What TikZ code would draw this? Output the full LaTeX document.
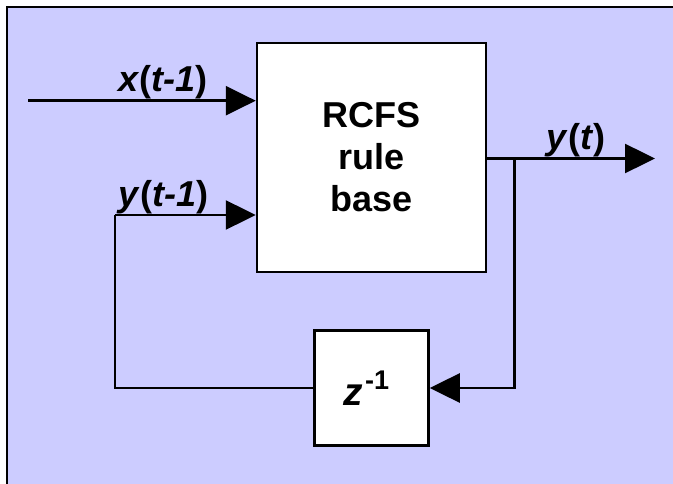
\documentclass[tikz,border=0pt]{standalone}
\usepackage{fontspec}
\setmainfont{Liberation Sans}
\usepackage{tikz}
\usetikzlibrary{arrows.meta,positioning,calc}
\definecolor{panelblue}{HTML}{CCCCFF}
\tikzset{
  rframe/.style={draw=black, line width=2pt},
  rbox/.style={draw=black, fill=white, line width=2.5pt, align=center, inner sep=0pt},
  rarrow/.style={-{Triangle[length=30pt, width=29pt]}, line width=2.5pt, black},
  rline/.style={line width=2.5pt, black},
  rlabel/.style={font=\fontsize{36}{40}\selectfont\bfseries, inner sep=0pt},
}
\begin{document}
\begin{tikzpicture}[x=1pt, y=-1pt]
  \useasboundingbox (0,0) rectangle (673,484);
  \fill[panelblue] (7,7) rectangle (673,484);
  \draw[rframe] (7,484) -- (7,7) -- (673,7);
  % blocks
  \node[rbox, minimum width=229pt, minimum height=229pt, font=\fontsize{36}{42}\selectfont\bfseries] (rcfs) at (371.5,157.5) {RCFS\\rule\\base};
  \node[rbox, minimum width=114pt, minimum height=115pt, below=56pt of rcfs, font=\fontsize{39}{42}\selectfont\bfseries] (zdelay) {\textit{z}\hspace{2pt}\raisebox{16pt}{\fontsize{27}{30}\selectfont -1}\hspace{10pt}};
  % signal points
  \coordinate (xin) at (28,100.7);
  \coordinate (yin) at (115,215);
  \coordinate (yout) at (655,158.5);
  \coordinate (tap) at ($(rcfs.east)+(27,1)$);
  % connectors
  \draw[rarrow] (xin) -- node[rlabel, pos=0.594, above]{\textit{x}(\textit{t-1})} (xin -| rcfs.west);
  \draw[rarrow] (rcfs.east |- yout) -- node[rlabel, pos=0.53, above]{\textit{y}(\textit{t})} (yout);
  \draw[rarrow] (tap) |- (zdelay.east);
  \draw[rline] (zdelay.west) -| (yin);
  \draw[rarrow] (yin) -- node[rlabel, pos=0.345, above]{\textit{y}(\textit{t-1})} (yin -| rcfs.west);
\end{tikzpicture}
\end{document}
